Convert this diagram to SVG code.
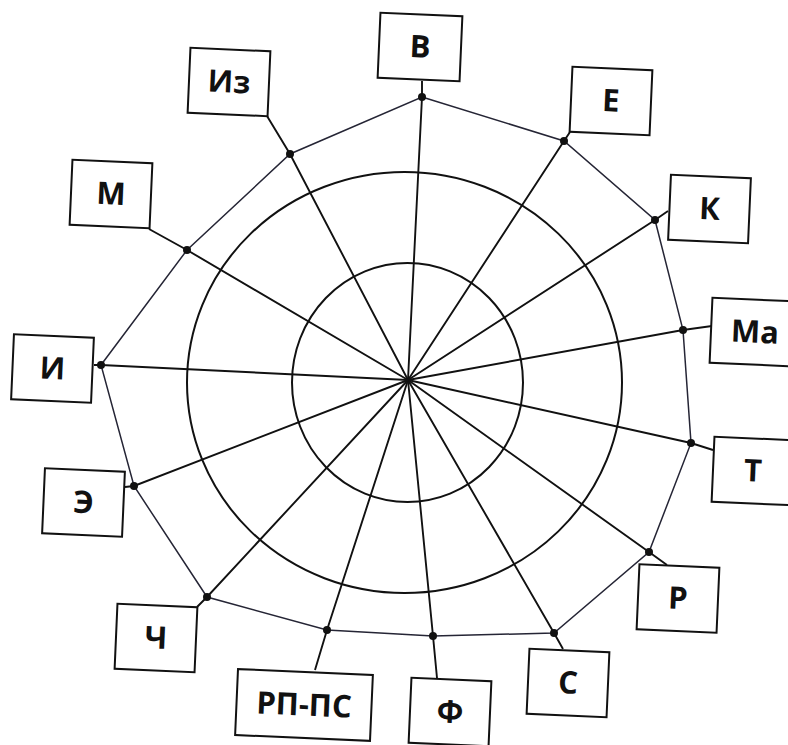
<svg xmlns="http://www.w3.org/2000/svg" width="788" height="745" viewBox="0 0 788 745">
<style>
.ring{fill:none;stroke:#111;stroke-width:2}
.spoke{fill:none;stroke:#111;stroke-width:1.9}
.poly{fill:none;stroke:#252535;stroke-width:1.5}
.dot{fill:#111}
.box rect{fill:#fff;stroke:#111;stroke-width:2}
.box text{font-family:"Open Sans","DejaVu Sans",sans-serif;font-weight:bold;font-size:31px;fill:#111;text-anchor:middle}
</style>
<rect width="788" height="745" fill="#fff"/>
<g id="rings">
<ellipse class="ring" cx="404.5" cy="382.5" rx="217.5" ry="210.5"/>
<ellipse class="ring" cx="407.5" cy="382.5" rx="115.5" ry="119.5"/>
</g>
<g id="connectors">
<polyline class="spoke" points="408,380 422,97 422,81"/>
<polyline class="spoke" points="408,380 290,154 267,116"/>
<polyline class="spoke" points="408,380 564,141 570,132"/>
<polyline class="spoke" points="408,380 187,250 149,229"/>
<polyline class="spoke" points="408,380 101,365 94,365"/>
<polyline class="spoke" points="408,380 655,220 668,211"/>
<polyline class="spoke" points="408,380 683,330 712,326"/>
<polyline class="spoke" points="408,380 691,443 713,450"/>
<polyline class="spoke" points="408,380 649,552 667,565"/>
<polyline class="spoke" points="408,380 554,633 563,649"/>
<polyline class="spoke" points="408,380 433,636 437,678"/>
<polyline class="spoke" points="408,380 327,630 315,670"/>
<polyline class="spoke" points="408,380 207,597 197,607"/>
<polyline class="spoke" points="408,380 134,486 125,487"/>
<polygon class="poly" points="422,97 564,141 655,220 683,330 691,443 649,552 554,633 433,636 327,630 207,597 134,486 101,365 187,250 290,154"/>
<g class="dot">
<circle cx="422" cy="97" r="4"/>
<circle cx="290" cy="154" r="4"/>
<circle cx="564" cy="141" r="4"/>
<circle cx="187" cy="250" r="4"/>
<circle cx="101" cy="365" r="4"/>
<circle cx="655" cy="220" r="4"/>
<circle cx="683" cy="330" r="4"/>
<circle cx="691" cy="443" r="4"/>
<circle cx="649" cy="552" r="4"/>
<circle cx="554" cy="633" r="4"/>
<circle cx="433" cy="636" r="4"/>
<circle cx="327" cy="630" r="4"/>
<circle cx="207" cy="597" r="4"/>
<circle cx="134" cy="486" r="4"/>
</g>
</g>
<g id="node-V" class="box" transform="translate(420,47) rotate(2.5)"><rect x="-41" y="-32.5" width="82" height="65"/><text x="0" y="10.5">В</text></g>
<g id="node-Iz" class="box" transform="translate(229,82) rotate(2.5)"><rect x="-40" y="-32.5" width="80" height="65"/><text x="0" y="10.5">Из</text></g>
<g id="node-E" class="box" transform="translate(611,101) rotate(2.5)"><rect x="-40" y="-32.5" width="80" height="65"/><text x="0" y="10.5">Е</text></g>
<g id="node-M" class="box" transform="translate(111,194) rotate(2.5)"><rect x="-40" y="-32.5" width="80" height="65"/><text x="0" y="10.5">М</text></g>
<g id="node-I" class="box" transform="translate(52.5,368.5) rotate(2.5)"><rect x="-40" y="-32.5" width="80" height="65"/><text x="0" y="10.5">И</text></g>
<g id="node-K" class="box" transform="translate(709.5,209) rotate(2.5)"><rect x="-40" y="-32.5" width="80" height="65"/><text x="0" y="10.5">К</text></g>
<g id="node-Ma" class="box" transform="translate(751,332) rotate(2.5)"><rect x="-40" y="-32.5" width="80" height="65"/><text x="4" y="10.5">Ма</text></g>
<g id="node-T" class="box" transform="translate(753,471) rotate(2.5)"><rect x="-40" y="-32.5" width="80" height="65"/><text x="0" y="10.5">Т</text></g>
<g id="node-R" class="box" transform="translate(678,598.5) rotate(2.5)"><rect x="-40" y="-32.5" width="80" height="65"/><text x="0" y="10.5">Р</text></g>
<g id="node-S" class="box" transform="translate(568,683) rotate(2.5)"><rect x="-40" y="-32.5" width="80" height="65"/><text x="0" y="10.5">С</text></g>
<g id="node-F" class="box" transform="translate(450,712) rotate(2.5)"><rect x="-40" y="-32.5" width="80" height="65"/><text x="0" y="10.5">Ф</text></g>
<g id="node-RP-PS" class="box" transform="translate(304,705) rotate(2.5)"><rect x="-67.5" y="-33" width="135" height="66"/><text x="0" y="10.5">РП-ПС</text></g>
<g id="node-Ch" class="box" transform="translate(156,638) rotate(2.5)"><rect x="-40" y="-32.5" width="80" height="65"/><text x="0" y="10.5">Ч</text></g>
<g id="node-E2" class="box" transform="translate(83.5,502.5) rotate(2.5)"><rect x="-40" y="-32.5" width="80" height="65"/><text x="0" y="10.5">Э</text></g>
</svg>
